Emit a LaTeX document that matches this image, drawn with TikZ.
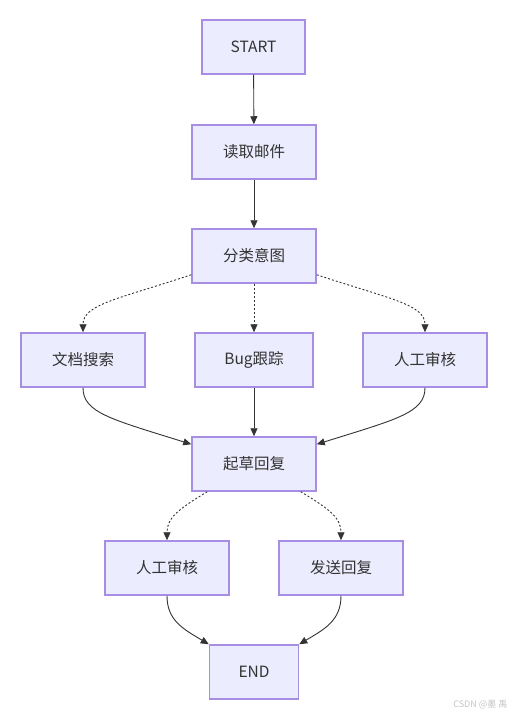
\documentclass[tikz,border=0pt]{standalone}
\usepackage{fontspec}
\setmainfont{Noto Sans CJK SC}
\usetikzlibrary{arrows.meta}
\definecolor{boxfill}{HTML}{ECECFF}
\definecolor{boxline}{HTML}{A78DE4}
\definecolor{txt}{HTML}{333333}
\definecolor{wm}{HTML}{C4C4C4}
\begin{document}
\begin{tikzpicture}[x=1pt,y=-1pt,
  box/.style={draw=boxline,fill=boxfill,line width=1.5pt,minimum height=54pt,minimum width=124pt,inner sep=0pt,text=txt,font=\fontsize{15.5}{18}\selectfont},
  conn/.style={draw=txt,line width=0.9pt,-{Triangle[length=8pt,width=7pt]}},
  dotconn/.style={conn,dash pattern=on 2pt off 2pt}]
\useasboundingbox (0,0) rectangle (514,717);
\node[box,minimum width=103pt] (start) at (253.5,47) {START};
\node[box] (read) at (254,152) {读取邮件};
\node[box] (classify) at (254,256) {分类意图};
\node[box] (doc) at (83,360) {文档搜索};
\node[box,minimum width=118pt] (bug) at (254,360) {Bug跟踪};
\node[box] (human1) at (425,360) {人工审核};
\node[box] (draft) at (254,464) {起草回复};
\node[box] (human2) at (167,568) {人工审核};
\node[box] (send) at (341,568) {发送回复};
\node[box,minimum width=89pt] (endn) at (254,672) {END};
\node[text=wm,font=\fontsize{9}{10}\selectfont,anchor=east] (wmark) at (511,705) {CSDN @墨 禹};

\draw[conn] (start) -- (read);
\draw[conn] (read) -- (classify);
\draw[dotconn] ([yshift=9pt]classify.south west) .. controls +(-72,24) and +(0,-28) .. (doc.north);
\draw[dotconn] (classify) -- (bug);
\draw[dotconn] ([yshift=9pt]classify.south east) .. controls +(72,24) and +(0,-28) .. (human1.north);
\draw[conn] (doc.south) .. controls +(0,25) and +(-80,-25) .. ([yshift=-8pt]draft.north west);
\draw[conn] (bug) -- (draft);
\draw[conn] (human1.south) .. controls +(0,25) and +(80,-25) .. ([yshift=-8pt]draft.north east);
\draw[dotconn] ([xshift=16pt]draft.south west) .. controls +(-30,18) and +(0,-22) .. (human2.north);
\draw[dotconn] ([xshift=-16pt]draft.south east) .. controls +(30,18) and +(0,-22) .. (send.north);
\draw[conn] (human2.south) .. controls +(0,25) and +(-25,-15) .. (endn.north west);
\draw[conn] (send.south) .. controls +(0,25) and +(25,-15) .. (endn.north east);
\end{tikzpicture}
\end{document}
